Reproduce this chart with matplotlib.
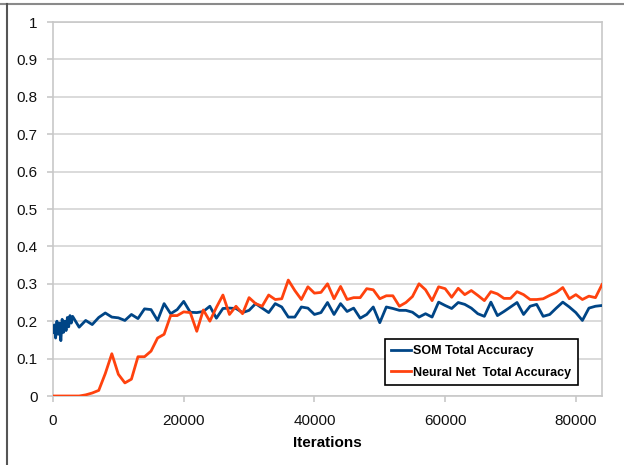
import numpy as np
import matplotlib
matplotlib.use("Agg")
import matplotlib.pyplot as plt
from matplotlib.lines import Line2D

plt.rcParams['font.family'] = ['Liberation Sans', 'DejaVu Sans']

# SOM: dense early samples, then every 1000 iterations
som_early_x = list(range(0, 3000, 200))
som_early_y = [0.17, 0.19, 0.155, 0.2, 0.165, 0.195, 0.148, 0.205, 0.17, 0.2,
               0.175, 0.21, 0.185, 0.215, 0.195]
som_late_x = list(range(3000, 85000, 1000))
som_late_y = [0.213, 0.184, 0.202, 0.191, 0.21, 0.222, 0.211, 0.209, 0.202, 0.218,
              0.207, 0.233, 0.231, 0.202, 0.247, 0.22, 0.231, 0.253, 0.224, 0.223,
              0.226, 0.24, 0.208, 0.234, 0.235, 0.234, 0.223, 0.229, 0.247, 0.235,
              0.223, 0.247, 0.238, 0.211, 0.211, 0.238, 0.235, 0.218, 0.223, 0.25,
              0.218, 0.247, 0.226, 0.235, 0.208, 0.218, 0.238, 0.196, 0.238, 0.234,
              0.229, 0.229, 0.224, 0.211, 0.22, 0.211, 0.251, 0.242, 0.234, 0.25,
              0.245, 0.235, 0.22, 0.213, 0.251, 0.215, 0.226, 0.238, 0.25, 0.218,
              0.24, 0.245, 0.213, 0.218, 0.235, 0.251, 0.238, 0.223, 0.202, 0.235,
              0.24, 0.242]
som_x = som_early_x + som_late_x
som_y = som_early_y + som_late_y

nn_x = list(range(0, 85000, 1000))
nn_y = [0, 0, 0, 0, 0, 0.003, 0.008, 0.015, 0.06, 0.113,
        0.058, 0.035, 0.045, 0.105, 0.105, 0.12, 0.155, 0.165, 0.215, 0.215,
        0.225, 0.223, 0.173, 0.23, 0.2, 0.237, 0.27, 0.218, 0.24, 0.22,
        0.263, 0.247, 0.24, 0.27, 0.258, 0.26, 0.31, 0.282, 0.258, 0.292,
        0.275, 0.277, 0.3, 0.26, 0.293, 0.258, 0.263, 0.263, 0.287, 0.284,
        0.26, 0.268, 0.268, 0.24, 0.25, 0.266, 0.3, 0.284, 0.255, 0.292,
        0.287, 0.264, 0.288, 0.271, 0.282, 0.269, 0.255, 0.279, 0.273, 0.261,
        0.261, 0.279, 0.271, 0.258, 0.258, 0.26, 0.269, 0.277, 0.29, 0.26,
        0.271, 0.258, 0.267, 0.263, 0.298]

fig = plt.figure(figsize=(6.24, 4.65), dpi=100)
ax = fig.add_axes([53 / 624, 1 - 396 / 465, 549 / 624, 374 / 465])

ax.plot(som_x, som_y, color='#004586', lw=2.0, label='SOM Total Accuracy', zorder=3)
ax.plot(nn_x, nn_y, color='#ff420e', lw=2.0, label='Neural Net  Total Accuracy', zorder=3)

ax.set_xlim(0, 84000)
ax.set_ylim(0, 1)
ax.set_xticks([0, 20000, 40000, 60000, 80000])
ax.set_yticks(np.arange(0, 1.01, 0.1))
ax.set_yticklabels(['0', '0.1', '0.2', '0.3', '0.4', '0.5', '0.6', '0.7', '0.8', '0.9', '1'])
ax.grid(axis='y', color='#d4d4d4', lw=1.2)
ax.set_axisbelow(True)
for s in ax.spines.values():
    s.set_color('#c8c8c8')
    s.set_linewidth(1.2)
ax.tick_params(axis='both', colors='#c8c8c8', labelcolor='#111111', labelsize=11,
               length=4, width=1.2, pad=7)
ax.tick_params(axis='x', pad=9)
ax.set_xlabel('Iterations', fontsize=11, fontweight='bold', labelpad=6)

leg = ax.legend(loc='upper left', bbox_to_anchor=(385 / 624, 1 - 339 / 465),
                bbox_transform=fig.transFigure, borderaxespad=0, fancybox=False,
                framealpha=1, edgecolor='black', prop={'weight': 'bold', 'size': 9},
                handlelength=1.6, handletextpad=0.15, labelspacing=0.75,
                borderpad=0.5)
leg.get_frame().set_linewidth(1.2)

# outer frame lines at top and left
fig.add_artist(Line2D([0, 1], [1 - 4 / 465, 1 - 4 / 465], transform=fig.transFigure,
                      color='#8a8a8a', lw=1.5))
fig.add_artist(Line2D([6.5 / 624, 6.5 / 624], [0, 1 - 4 / 465], transform=fig.transFigure,
                      color='#555555', lw=1.5))

fig.savefig('out.png', dpi=100)
